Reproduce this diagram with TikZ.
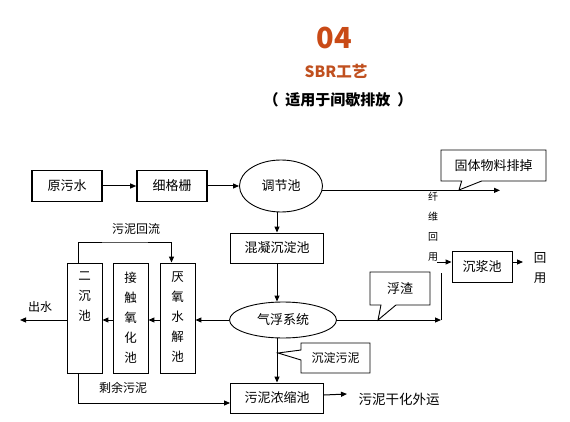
\documentclass[tikz,border=0pt]{standalone}
\usepackage{fontspec}
\setmainfont{Noto Sans CJK SC}
\usepackage{tikz}
\usetikzlibrary{arrows.meta,positioning,shapes.geometric,shapes.callouts}
\definecolor{Rust}{HTML}{C94A16}
\definecolor{Ochre}{HTML}{C0501F}

\begin{document}
\begin{tikzpicture}[
  x=1pt,y=-1pt,
  proc/.style={draw,line width=0.9pt,minimum width=93pt,minimum height=30pt,inner sep=0pt,font=\fontsize{13}{15}\selectfont},
  inbox/.style={proc,line width=1.6pt,minimum width=70pt,minimum height=31pt},
  pool/.style={ellipse,draw,line width=0.9pt,inner sep=0pt,font=\fontsize{13}{15}\selectfont},
  col/.style={draw,line width=0.9pt,minimum width=35pt,minimum height=110pt,inner sep=0pt},
  coltxt/.style={anchor=north,yshift=-9pt,inner sep=0pt,align=center,font=\fontsize{12.5}{20}\selectfont},
  note/.style={rectangle callout,draw,line width=0.9pt,inner sep=0pt,font=\fontsize{13}{15}\selectfont},
  lab/.style={inner sep=0pt,font=\fontsize{12}{14}\selectfont},
  flow/.style={line width=1pt,-{Triangle[length=6pt,width=5pt]}}
]
\useasboundingbox (0,0) rectangle (570,422);
% title
\node[font=\fontsize{29}{32}\bfseries\selectfont,text=Rust] (num) at (334,38) {04};
\node[font=\fontsize{15.5}{18}\bfseries\selectfont,text=Ochre] (sbr) at (336,71) {SBR工艺};
\node[font=\fontsize{15}{18}\bfseries\selectfont] (usage) at (338,100) {（\hspace{7pt}适用于间歇排放\hspace{7pt}）};

% main line
\node[inbox] (raw) at (67,186) {原污水};
\node[inbox] (screen) at (172,186) {细格栅};
\node[pool,minimum width=83pt,minimum height=52pt] (equal) at (281,186) {调节池};
\node[proc] (coag) at (277,248) {混凝沉淀池};
\node[pool,minimum width=107pt,minimum height=36pt] (float) at (283,320) {气浮系统};
\node[proc] (thick) at (277,398) {污泥浓缩池};
\node[proc,minimum width=60pt,minimum height=31pt] (slurry) at (482,267) {沉浆池};

% biological columns
\node[col] (sec) at (84.5,318) {};
\node[col] (contact) at (130.5,318) {};
\node[col] (anaer) at (177.5,318) {};
\node[coltxt] (secTxt) at (sec.north) {二\\沉\\池};
\node[coltxt] (contactTxt) at (contact.north) {接\\触\\氧\\化\\池};
\node[coltxt] (anaerTxt) at (anaer.north) {厌\\氧\\水\\解\\池};

% callouts
\node[note,minimum width=105pt,minimum height=31pt,callout absolute pointer={(459,190)},callout pointer width=20pt] (solid) at (493.5,165.5) {固体物料排掉};
\node[note,minimum width=60pt,minimum height=33pt,callout absolute pointer={(378,320)},callout pointer width=15pt] (scum) at (400,288.5) {浮渣};
\node[note,minimum width=69pt,minimum height=30pt,callout absolute pointer={(278,353)},callout pointer width=10pt,font=\fontsize{12}{14}\selectfont] (sludge) at (335.5,358) {沉淀污泥};

% labels
\node[lab] (retLab) at (136,229) {污泥回流};
\node[lab] (surLab) at (123,388) {剩余污泥};
\node[lab] (outLab) at (40,307) {出水};
\node[lab,font=\fontsize{13.5}{15}\selectfont] (dryLab) at (399,399) {污泥干化外运};
\node[lab,align=center,font=\fontsize{10}{20}\selectfont] (fiber) at (433,227) {纤\\维\\回\\用};
\node[lab,align=center,font=\fontsize{12.5}{20}\selectfont] (reuse) at (540,268) {回\\用};

\coordinate (solidEnd) at (500,190);
\coordinate (scumEnd) at (441,320);
\coordinate (fiberTop) at (441,273);
\coordinate (fiberIn) at (437,262);
\coordinate (reuseEnd) at (523,262);
\coordinate (outEnd) at (20,320);
\coordinate (retTop) at (125,242);
\coordinate (dryEnd) at (347,394);

% connectors
\draw[flow] (raw) -- (screen);
\draw[flow] (screen) -- (equal);
\draw[flow] (equal.-6) -- (equal.-6 -| solidEnd);
\draw[flow] (coag.north |- equal.south) -- (coag.north);
\draw[flow] (coag.south) -- (coag.south |- float.north);
\draw[flow] (thick.north |- float.south) -- (thick.north);
\draw[flow] (float.east) -- (scumEnd);
\draw[line width=1pt] (scumEnd) -- (fiberTop);
\draw[flow] (fiberIn) -- (fiberIn -| slurry.west);
\draw[flow] (slurry.east |- fiberIn) -- (reuseEnd);
\draw[flow] (float.west) -- (float.west -| anaer.east);
\draw[flow] (anaer.west |- float.west) -- (contact.east |- float.west);
\draw[flow] (contact.west |- float.west) -- (sec.east |- float.west);
\draw[flow] (sec.west |- float.west) -- (outEnd);
\draw[flow] ([xshift=-6pt]sec.north) |- (retTop) -| ([xshift=-6pt]anaer.north);
\draw[flow] ([xshift=-6pt]sec.south) |- ([yshift=-5pt]thick.west);
\draw[flow] ([yshift=3pt]thick.east) -- (dryEnd);
\end{tikzpicture}
\end{document}
